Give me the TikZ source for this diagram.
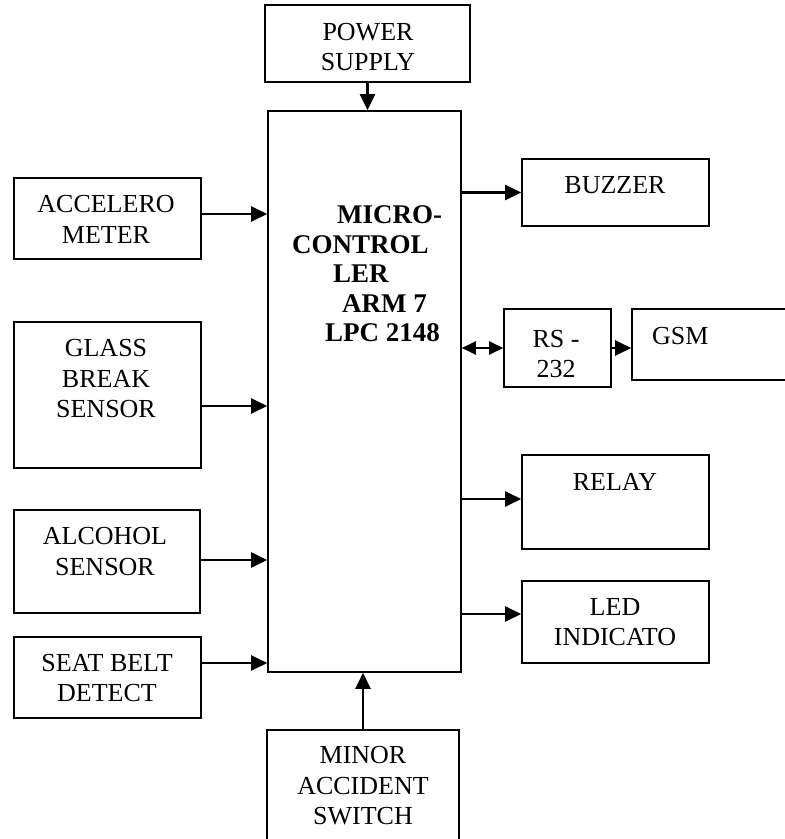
\documentclass[tikz,border=0pt]{standalone}
\usepackage{fontspec}
\setmainfont{Liberation Serif}
\usepackage{tikz}
\usetikzlibrary{arrows.meta}
\tikzset{blk/.style={draw,line width=1.6pt,inner sep=0pt}}
\tikzset{lbl/.style={font=\fontsize{26}{30.5}\selectfont,align=center,inner sep=0pt}}
\tikzset{sig/.style={line width=2.3pt,-{Triangle[length=16pt,width=15pt]}}}
\tikzset{bus/.style={line width=2.3pt,{Triangle[length=14pt,width=13pt]}-{Triangle[length=14pt,width=13pt]}}}

\begin{document}
\begin{tikzpicture}[x=1pt,y=-1pt]
                \useasboundingbox (0,0) rectangle (785,839);

                % Controller
                \node[blk,minimum width=193pt,minimum height=561pt] (mcu) at (364.5,391.5) {};
                \node[lbl,align=left,anchor=west,font=\fontsize{27}{29.5}\selectfont\bfseries] (mcutxt) at (292,274)
                    {\hspace*{45pt}MICRO-\\CONTROL\\\hspace*{41pt}LER\\\hspace*{50pt}ARM 7\\\hspace*{33pt}LPC 2148};

                % Power
                \node[blk,minimum width=205pt,minimum height=77pt] (pwr) at (367.5,43.5) {};
                \node[lbl] (pwrtxt) at (368,47) {POWER\\SUPPLY};

                % Inputs
                \node[blk,minimum width=187pt,minimum height=81pt] (acc) at (107.5,218.5) {};
                \node[lbl] (acctxt) at (106,219.5) {ACCELERO\\METER};
                \node[blk,minimum width=187pt,minimum height=146pt] (glass) at (107.5,395) {};
                \node[lbl] (glasstxt) at (106,379) {GLASS\\BREAK\\SENSOR};
                \node[blk,minimum width=186pt,minimum height=103pt] (alc) at (107,561.5) {};
                \node[lbl] (alctxt) at (105,551.5) {ALCOHOL\\SENSOR};
                \node[blk,minimum width=187pt,minimum height=81pt] (seat) at (107.5,677.5) {};
                \node[lbl] (seattxt) at (107,678) {SEAT BELT\\DETECT};
                \node[blk,minimum width=192pt,minimum height=120pt] (minor) at (363,790) {};
                \node[lbl] (minortxt) at (363,786) {MINOR\\ACCIDENT\\SWITCH};

                % Outputs
                \node[blk,minimum width=187pt,minimum height=67pt] (buzz) at (615.5,192.5) {};
                \node[lbl] (buzztxt) at (615,185) {BUZZER};
                \node[blk,minimum width=107pt,minimum height=78pt] (rs) at (557.5,348) {};
                \node[lbl] (rstxt) at (556,354) {RS -\\232};
                \node[blk,minimum width=168pt,minimum height=71pt] (gsm) at (716,344.5) {};
                \node[lbl,anchor=west] (gsmtxt) at (652,336) {GSM};
                \node[blk,minimum width=187pt,minimum height=94pt] (relay) at (615.5,502) {};
                \node[lbl] (relaytxt) at (615,482) {RELAY};
                \node[blk,minimum width=187pt,minimum height=82pt] (led) at (615.5,622) {};
                \node[lbl] (ledtxt) at (615,622) {LED\\INDICATO};

                % Arrows in
                \draw[sig] (pwr.south) -- (pwr.south |- mcu.north);
                \draw[sig] (acc.east |- 0,214) -- (mcu.west |- 0,214);
                \draw[sig] (glass.east |- 0,406) -- (mcu.west |- 0,406);
                \draw[sig] (alc.east |- 0,560) -- (mcu.west |- 0,560);
                \draw[sig] (seat.east |- 0,663) -- (mcu.west |- 0,663);
                \draw[sig] (minor.north) -- (minor.north |- mcu.south);

                % Arrows out
                \draw[sig] (mcu.east |- buzz.west) -- (buzz.west);
                \draw[bus] (mcu.east |- rs.west) -- (rs.west);
                \draw[sig] (rs.east) -- (rs.east -| gsm.west);
                \draw[sig] (mcu.east |- 0,499) -- (relay.west |- 0,499);
                \draw[sig] (mcu.east |- 0,614) -- (led.west |- 0,614);
            \end{tikzpicture}
\end{document}
